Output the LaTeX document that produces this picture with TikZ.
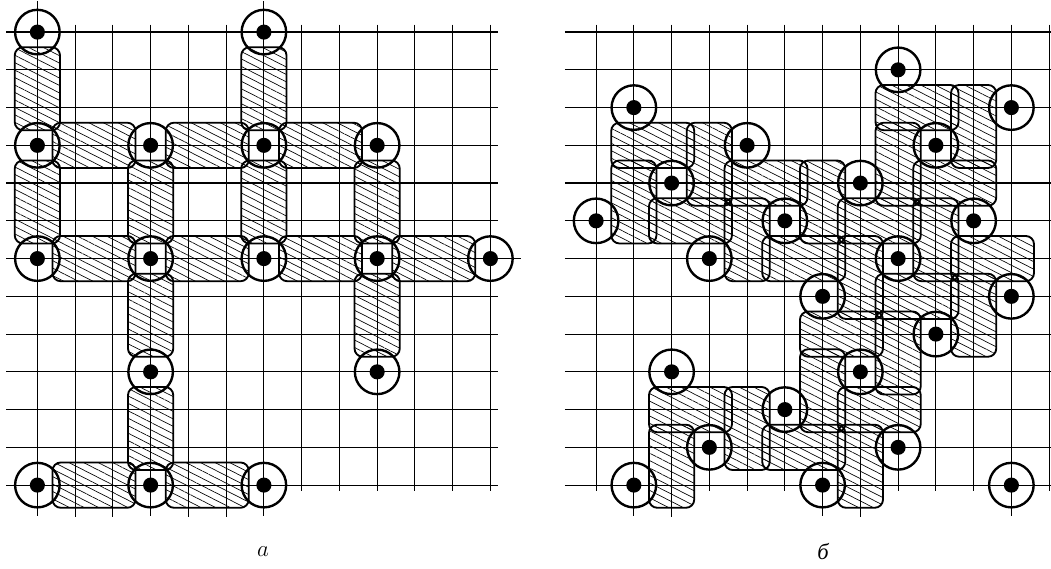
\documentclass[tikz,border=0pt]{standalone}
\usepackage{fontspec}
\newfontfamily\cyrfont{Liberation Serif}
\usetikzlibrary{patterns.meta}

\tikzstyle{gridline} = [line width=0.9pt, black]
\tikzstyle{ring} = [line width=1.8pt, black]
\tikzstyle{dot} = [black]
\tikzstyle{tile} = [
    line width=1.4pt,
    rounded corners=2.2mm,
    pattern={Lines[angle=-27, distance=5pt, line width=0.5pt]}
]
\tikzstyle{caption} = [font=\fontsize{17}{20}\selectfont]

\begin{document}
\begin{tikzpicture}

\useasboundingbox (0,0) rectangle (27.84,-15.07);

% a
\begin{scope}[shift={(0.99,-0.85)}, y=-1cm]

\foreach \i in {0,...,12} {
    \draw [gridline] (-0.83,\i) -- (12.2,\i);
    \draw [gridline] (\i,-0.2) -- (\i,12.15);
}
\foreach \i in {1,2,4,5}
    \draw [gridline] (\i,12) -- (\i,12.85);

\foreach \x/\y in {1.5/3, 4.5/3, 7.5/3, 1.5/6, 4.5/6, 7.5/6, 10.5/6, 1.5/12, 4.5/12}
    \draw [tile] (\x-1.1,\y-0.6) rectangle (\x+1.1,\y+0.6);
\foreach \x/\y in {0/1.5, 6/1.5, 0/4.5, 3/4.5, 6/4.5, 9/4.5, 3/7.5, 9/7.5, 3/10.5}
    \draw [tile] (\x-0.6,\y-1.1) rectangle (\x+0.6,\y+1.1);

\foreach \x/\y in {0/0, 6/0, 0/3, 3/3, 6/3, 9/3, 0/6, 3/6, 6/6, 9/6, 12/6,
                   3/9, 9/9, 0/12, 3/12, 6/12} {
    \draw [gridline] (\x-0.82,\y) -- (\x+0.82,\y) (\x,\y-0.82) -- (\x,\y+0.82);
    \draw [ring] (\x,\y) circle (0.59);
    \fill [dot] (\x,\y) circle (0.2);
}

\end{scope}

% b
\begin{scope}[shift={(15.79,-0.85)}, y=-1cm]

\foreach \i in {0,...,12} {
    \draw [gridline] (-0.83,\i) -- (12.2,\i);
    \draw [gridline] (\i,-0.2) -- (\i,12.15);
}
\foreach \i in {2,7}
    \draw [gridline] (\i,12) -- (\i,12.85);

\foreach \x/\y in {1.5/3, 2.5/5, 4.5/4, 8.5/2, 9.5/4, 7.5/5, 10.5/6, 5.5/6,
                   8.5/7, 6.5/8, 7.5/10, 5.5/11, 2.5/10}
    \draw [tile] (\x-1.1,\y-0.6) rectangle (\x+1.1,\y+0.6);
\foreach \x/\y in {3/3.5, 1/4.5, 6/4.5, 10/2.5, 8/3.5, 9/5.5, 4/5.5, 7/6.5,
                   10/7.5, 8/8.5, 6/9.5, 7/11.5, 4/10.5, 2/11.5}
    \draw [tile] (\x-0.6,\y-1.1) rectangle (\x+0.6,\y+1.1);

\foreach \x/\y in {1/2, 4/3, 2/4, 0/5, 5/5, 3/6, 7/4, 8/1, 11/2, 9/3, 10/5, 8/6,
                   6/7, 11/7, 9/8, 2/9, 7/9, 5/10, 3/11, 8/11, 1/12, 6/12, 11/12} {
    \draw [gridline] (\x-0.82,\y) -- (\x+0.82,\y) (\x,\y-0.82) -- (\x,\y+0.82);
    \draw [ring] (\x,\y) circle (0.59);
    \fill [dot] (\x,\y) circle (0.2);
}

\end{scope}

\node (capa) [caption] at (6.97,-14.6) {$a$};
\node (capb) [caption] at (21.8,-14.6) {\cyrfont\itshape б};

\end{tikzpicture}
\end{document}
